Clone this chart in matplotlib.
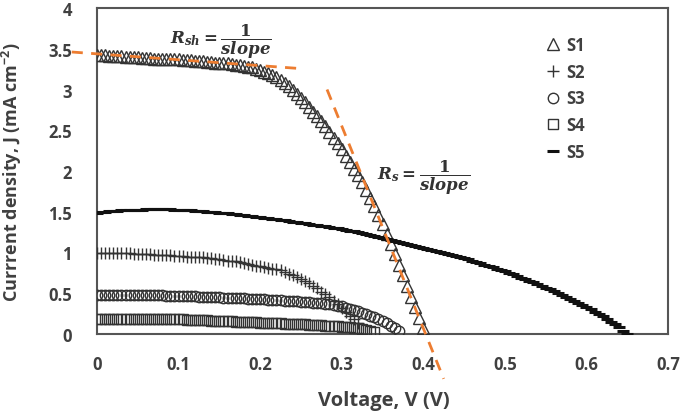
import numpy as np
import matplotlib
matplotlib.use("Agg")
import matplotlib.pyplot as plt

# ---------------- data ----------------
V_STEP = 0.005  # voltage sweep step (V)

S1_J = [3.42, 3.42, 3.42, 3.41, 3.41, 3.41, 3.41, 3.40, 3.40, 3.40,
        3.40, 3.39, 3.39, 3.39, 3.38, 3.38, 3.38, 3.38, 3.37, 3.37,
        3.37, 3.36, 3.36, 3.36, 3.35, 3.35, 3.35, 3.34, 3.34, 3.33,
        3.33, 3.32, 3.32, 3.31, 3.30, 3.30, 3.29, 3.28, 3.27, 3.25,
        3.24, 3.22, 3.20, 3.18, 3.15, 3.12, 3.08, 3.04, 3.00, 2.95,
        2.90, 2.85, 2.79, 2.73, 2.67, 2.61, 2.55, 2.48, 2.41, 2.34,
        2.27, 2.19, 2.11, 2.03, 1.95, 1.86, 1.77, 1.67, 1.57, 1.46,
        1.35, 1.23, 1.11, 0.98, 0.85, 0.72, 0.59, 0.46, 0.33, 0.20,
        0.07]

S2_J = [1.00, 1.00, 1.00, 0.99, 0.99, 0.99, 0.99, 0.99, 0.99, 0.98,
        0.98, 0.98, 0.98, 0.98, 0.97, 0.97, 0.97, 0.97, 0.97, 0.96,
        0.96, 0.96, 0.95, 0.95, 0.95, 0.94, 0.94, 0.93, 0.93, 0.92,
        0.92, 0.91, 0.90, 0.90, 0.89, 0.88, 0.87, 0.86, 0.85, 0.84,
        0.83, 0.82, 0.81, 0.80, 0.80, 0.78, 0.76, 0.74, 0.72, 0.70,
        0.68, 0.65, 0.62, 0.59, 0.56, 0.52, 0.49, 0.45, 0.41, 0.37,
        0.32, 0.27, 0.22, 0.18, 0.14]

S3_J = [0.480, 0.480, 0.480, 0.480, 0.480, 0.480, 0.480, 0.480, 0.480, 0.480,
        0.480, 0.479, 0.477, 0.476, 0.475, 0.474, 0.473, 0.472, 0.471, 0.470,
        0.469, 0.467, 0.465, 0.463, 0.461, 0.459, 0.457, 0.455, 0.453, 0.451,
        0.449, 0.447, 0.445, 0.443, 0.441, 0.439, 0.437, 0.435, 0.432, 0.430,
        0.428, 0.425, 0.422, 0.419, 0.416, 0.413, 0.410, 0.407, 0.404, 0.401,
        0.398, 0.394, 0.390, 0.385, 0.380, 0.375, 0.369, 0.362, 0.355, 0.347,
        0.338, 0.325, 0.310, 0.295, 0.280, 0.262, 0.244, 0.226, 0.207, 0.184,
        0.160, 0.130, 0.100, 0.070, 0.040]

S4_J = [0.190, 0.190, 0.190, 0.190, 0.190, 0.190, 0.190, 0.190, 0.190, 0.190,
        0.190, 0.189, 0.188, 0.187, 0.186, 0.185, 0.184, 0.183, 0.182, 0.181,
        0.180, 0.178, 0.176, 0.174, 0.172, 0.170, 0.168, 0.166, 0.164, 0.162,
        0.160, 0.158, 0.156, 0.154, 0.152, 0.150, 0.148, 0.146, 0.144, 0.142,
        0.140, 0.138, 0.136, 0.134, 0.132, 0.130, 0.128, 0.126, 0.124, 0.122,
        0.120, 0.117, 0.114, 0.111, 0.108, 0.105, 0.102, 0.099, 0.096, 0.093,
        0.090, 0.085, 0.080, 0.075, 0.070, 0.060, 0.050, 0.040, 0.030]

S5_J = [1.490, 1.496, 1.501, 1.506, 1.510, 1.514, 1.517, 1.520, 1.522, 1.524,
        1.525, 1.527, 1.528, 1.529, 1.530, 1.530, 1.530, 1.529, 1.528, 1.527,
        1.525, 1.522, 1.519, 1.516, 1.512, 1.509, 1.505, 1.501, 1.497, 1.494,
        1.490, 1.485, 1.479, 1.474, 1.468, 1.463, 1.457, 1.452, 1.446, 1.441,
        1.435, 1.428, 1.421, 1.414, 1.407, 1.400, 1.393, 1.386, 1.379, 1.372,
        1.365, 1.358, 1.350, 1.343, 1.335, 1.328, 1.320, 1.312, 1.305, 1.297,
        1.290, 1.280, 1.269, 1.258, 1.247, 1.236, 1.225, 1.214, 1.203, 1.191,
        1.180, 1.168, 1.156, 1.144, 1.132, 1.120, 1.108, 1.096, 1.084, 1.072,
        1.060, 1.047, 1.034, 1.021, 1.008, 0.995, 0.982, 0.969, 0.956, 0.943,
        0.930, 0.915, 0.899, 0.883, 0.867, 0.851, 0.835, 0.819, 0.802, 0.786,
        0.770, 0.751, 0.732, 0.712, 0.692, 0.672, 0.652, 0.632, 0.611, 0.591,
        0.570, 0.547, 0.524, 0.501, 0.477, 0.453, 0.429, 0.405, 0.380, 0.355,
        0.330, 0.303, 0.276, 0.249, 0.220, 0.187, 0.152, 0.117, 0.080, 0.040,
        0.005]

# tangent (slope) guide lines: [V_start, V_end], [J_start, J_end]
RSH_V = [-0.031, 0.245]
RSH_J = [3.46, 3.26]
RS_V = [0.282, 0.425]
RS_J = [3.00, -0.55]

X_TICKS = [0, 0.1, 0.2, 0.3, 0.4, 0.5, 0.6, 0.7]
Y_TICKS = [0, 0.5, 1, 1.5, 2, 2.5, 3, 3.5, 4]
X_TICKLABELS = ["0", "0.1", "0.2", "0.3", "0.4", "0.5", "0.6", "0.7"]
Y_TICKLABELS = ["0", "0.5", "1", "1.5", "2", "2.5", "3", "3.5", "4"]

# ---------------- style ----------------
plt.rcParams['font.family'] = ['Open Sans', 'DejaVu Sans']
plt.rcParams['mathtext.fontset'] = 'custom'
plt.rcParams['mathtext.it'] = 'DejaVu Serif:italic:bold'
plt.rcParams['mathtext.rm'] = 'DejaVu Serif:bold'
plt.rcParams['mathtext.bf'] = 'DejaVu Serif:bold'

W, H = 684, 414
fig = plt.figure(figsize=(W / 100, H / 100), dpi=100)
ax = fig.add_axes([97 / W, (H - 335) / H, (668 - 97) / W, (335 - 9) / H])

MC = '#333333'
TXT = '#404040'

def volts(j):
    return V_STEP * np.arange(len(j))

ax.plot(volts(S1_J), S1_J, linestyle='none', marker='^', ms=8.5, mfc='none',
        mec=MC, mew=1.0, label='S1', zorder=3)
ax.plot(volts(S2_J), S2_J, linestyle='none', marker='+', ms=9, mec=MC,
        mew=1.0, label='S2', zorder=3)
ax.plot(volts(S3_J), S3_J, linestyle='none', marker='o', ms=7.5, mfc='none',
        mec=MC, mew=1.0, label='S3', zorder=3)
ax.plot(volts(S4_J), S4_J, linestyle='none', marker='s', ms=7.5, mfc='none',
        mec=MC, mew=1.0, label='S4', zorder=3)
ax.plot(volts(S5_J), S5_J, linestyle='none', marker='_', ms=8, mec='#111111',
        mew=2.2, label='S5', zorder=3)

ORANGE = '#ED7D31'
ax.plot(RSH_V, RSH_J, color=ORANGE, lw=2.0, dashes=(4, 3), clip_on=False, zorder=4)
ax.plot(RS_V, RS_J, color=ORANGE, lw=2.0, dashes=(4, 3), clip_on=False, zorder=4)

ax.set_xlim(0, 0.7)
ax.set_ylim(0, 4)
ax.set_xticks(X_TICKS)
ax.set_xticklabels(X_TICKLABELS)
ax.set_yticks(Y_TICKS)
ax.set_yticklabels(Y_TICKLABELS)
ax.tick_params(axis='both', length=0, labelsize=12, colors=TXT)
ax.tick_params(axis='x', pad=15)
ax.tick_params(axis='y', pad=18)
for lab in ax.get_xticklabels() + ax.get_yticklabels():
    lab.set_fontweight('bold')
for sp in ax.spines.values():
    sp.set_color('#555555')
    sp.set_linewidth(1.5)

fig.text(384 / W, 1 - 401 / H, 'Voltage, V (V)', ha='center', va='center',
         fontsize=14.5, fontweight='bold', color=TXT)
fig.text(12 / W, 1 - 172 / H, 'Currrent density, J (mA cm$^{\\mathregular{-2}}$)',
         rotation=90, ha='center', va='center', fontsize=13, fontweight='bold',
         color=TXT)

ax.text(0.152, 3.595, r'$R_{sh}=\dfrac{\mathbf{1}}{slope}$', fontsize=12,
        ha='center', va='center', color='#333333')
ax.text(0.40, 1.93, r'$R_s=\dfrac{\mathbf{1}}{slope}$', fontsize=12,
        ha='center', va='center', color='#333333')

leg = ax.legend(loc='upper left',
                bbox_to_anchor=((545 - 97) / (668 - 97), 1 - (37 - 9) / (335 - 9)),
                frameon=False, handlelength=0.9, handletextpad=0.35,
                labelspacing=0.52, borderaxespad=0, borderpad=0,
                prop={'weight': 'bold', 'size': 12})
for t in leg.get_texts():
    t.set_color(TXT)

fig.savefig('out.png', dpi=100)
